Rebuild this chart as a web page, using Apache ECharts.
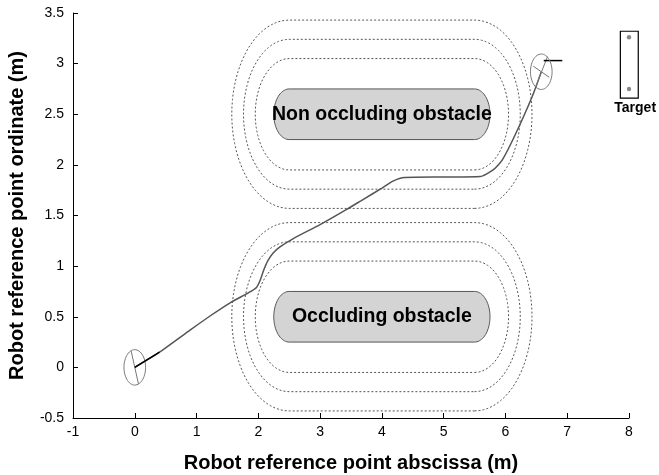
<!DOCTYPE html>
<html>
<head>
<meta charset="utf-8">
<script src="https://cdn.jsdelivr.net/npm/echarts@6/dist/echarts.min.js"></script>
<style>
  html, body { margin: 0; padding: 0; background: #fff; }
  #main { width: 659px; height: 475px; }
</style>
</head>
<body>
<div id="main"></div>
<script>
// trajectory of the robot reference point (m)
const pathX = [0, 0.4, 0.9, 1.2, 1.55, 1.85, 1.97, 2.03, 2.08, 2.15, 2.24, 2.35, 2.56, 3.0, 3.43, 3.7, 4.0, 4.18, 4.37, 5.0, 5.59, 5.8, 5.95, 6.16, 6.43, 6.58];
const pathY = [0, 0.15, 0.37, 0.5, 0.64, 0.74, 0.79, 0.86, 0.95, 1.05, 1.13, 1.19, 1.27, 1.41, 1.56, 1.66, 1.77, 1.84, 1.875, 1.88, 1.885, 1.95, 2.05, 2.3, 2.67, 2.92];

// obstacles: stadium shapes, ends centred at obstacleEndX, height 2*obstacleRadius
const obstacleNames = ["Non occluding obstacle", "Occluding obstacle"];
const obstacleCenterY = [2.5, 0.5];
const obstacleEndX = [2.5, 5.5];
const obstacleRadius = 0.25;
const marginRadii = [0.55, 0.74, 0.93];

// robot poses (circle centre) and the segments drawn inside them
const robotCenters = [[0, 0], [6.58, 2.92]];
const robotRadius = 0.175;
const robotGraySegs = [
  [[-0.06, 0.165], [0.06, -0.165]],
  [[6.49, 2.77], [6.68, 3.07]],
  [[6.45, 2.975], [6.71, 2.865]]
];
const robotBlackSegs = [
  [[0, 0], [0.4, 0.15]],
  [[6.62, 3.03], [6.92, 3.03]]
];

// target
const targetBox = [[7.86, 2.66], [8.15, 3.32]];
const targetDots = [[8.0, 3.26], [8.0, 2.75]];
const targetLabel = [8.1, 2.56];

const xTicks = { min: -1, max: 8, step: 1 };
const yTicks = { min: -0.5, max: 3.5, step: 0.5 };

function stadium(api, x0, x1, yc, r) {
  const pts = [];
  const n = 40;
  for (let i = 0; i <= n; i++) {
    const a = -Math.PI / 2 + Math.PI * i / n;
    pts.push(api.coord([x1 + r * Math.cos(a), yc + r * Math.sin(a)]));
  }
  for (let i = 0; i <= n; i++) {
    const a = Math.PI / 2 + Math.PI * i / n;
    pts.push(api.coord([x0 + r * Math.cos(a), yc + r * Math.sin(a)]));
  }
  return pts;
}

function seg(api, s, color, width) {
  const a = api.coord(s[0]), b = api.coord(s[1]);
  return {
    type: "line",
    shape: { x1: a[0], y1: a[1], x2: b[0], y2: b[1] },
    style: { stroke: color, lineWidth: width }
  };
}

const chart = echarts.init(document.getElementById("main"));

const option = {
  animation: false,
  grid: { left: 73, right: 30, top: 13, bottom: 57, containLabel: false, outerBoundsMode: "none" },
  xAxis: {
    type: "value",
    min: xTicks.min,
    max: xTicks.max,
    interval: xTicks.step,
    name: "Robot reference point abscissa (m)",
    nameLocation: "middle",
    nameGap: 35,
    nameTextStyle: { fontFamily: "Liberation Sans", fontWeight: "bold", fontSize: 20, color: "#000" },
    axisLine: { show: true, onZero: false, lineStyle: { color: "#000", width: 1 } },
    axisTick: { show: true, inside: true, length: 5, lineStyle: { color: "#000" } },
    axisLabel: { fontFamily: "Liberation Sans", fontSize: 14, color: "#000", margin: 7 },
    splitLine: { show: false }
  },
  yAxis: {
    type: "value",
    min: yTicks.min,
    max: yTicks.max,
    interval: yTicks.step,
    name: "Robot reference point ordinate (m)",
    nameLocation: "middle",
    nameGap: 46,
    nameTextStyle: { fontFamily: "Liberation Sans", fontWeight: "bold", fontSize: 20, color: "#000" },
    axisLine: { show: true, onZero: false, lineStyle: { color: "#000", width: 1 } },
    axisTick: { show: true, inside: true, length: 5, lineStyle: { color: "#000" } },
    axisLabel: { fontFamily: "Liberation Sans", fontSize: 14, color: "#000", margin: 9 },
    splitLine: { show: false }
  },
  series: [
    {
      // dotted safety margins around both obstacles
      type: "custom",
      silent: true,
      z: 1,
      data: obstacleCenterY.map((y, i) => [i, y]),
      renderItem: function (params, api) {
        const yc = obstacleCenterY[params.dataIndex];
        return {
          type: "group",
          children: marginRadii.map(r => ({
            type: "polygon",
            shape: { points: stadium(api, obstacleEndX[0], obstacleEndX[1], yc, r) },
            style: { fill: "none", stroke: "#555", lineWidth: 1, lineDash: [2, 2] }
          }))
        };
      }
    },
    {
      // obstacles with their names
      type: "custom",
      silent: true,
      z: 2,
      data: obstacleCenterY.map((y, i) => [i, y]),
      renderItem: function (params, api) {
        const i = params.dataIndex;
        const yc = obstacleCenterY[i];
        const c = api.coord([(obstacleEndX[0] + obstacleEndX[1]) / 2, yc]);
        return {
          type: "group",
          children: [
            {
              type: "polygon",
              shape: { points: stadium(api, obstacleEndX[0], obstacleEndX[1], yc, obstacleRadius) },
              style: { fill: "#d4d4d4", stroke: "#555", lineWidth: 1 }
            },
            {
              type: "text",
              style: {
                text: obstacleNames[i], x: c[0], y: c[1],
                align: "center", verticalAlign: "middle",
                textAlign: "center", textVerticalAlign: "middle",
                font: "bold 19.5px 'Liberation Sans'", fill: "#000"
              }
            }
          ]
        };
      }
    },
    {
      type: "line",
      name: "trajectory",
      z: 3,
      symbol: "none",
      smooth: 0.2,
      lineStyle: { color: "#555", width: 1.5 },
      data: pathX.map((x, i) => [x, pathY[i]])
    },
    {
      // robots at start and end
      type: "custom",
      silent: true,
      z: 4,
      data: robotCenters,
      renderItem: function (params, api) {
        const c = robotCenters[params.dataIndex];
        const pts = [];
        for (let k = 0; k < 60; k++) {
          const a = 2 * Math.PI * k / 60;
          pts.push(api.coord([c[0] + robotRadius * Math.cos(a), c[1] + robotRadius * Math.sin(a)]));
        }
        const children = [{
          type: "polygon",
          shape: { points: pts },
          style: { fill: "none", stroke: "#777", lineWidth: 1 }
        }];
        if (params.dataIndex === 0) {
          robotGraySegs.forEach(s => children.push(seg(api, s, "#777", 1)));
          robotBlackSegs.forEach(s => children.push(seg(api, s, "#000", 1.5)));
        }
        return { type: "group", children: children };
      }
    },
    {
      // target
      type: "custom",
      silent: true,
      z: 4,
      data: [targetLabel],
      renderItem: function (params, api) {
        const a = api.coord(targetBox[0]), b = api.coord(targetBox[1]);
        const t = api.coord(targetLabel);
        const children = [{
          type: "rect",
          shape: { x: a[0], y: b[1], width: b[0] - a[0], height: a[1] - b[1] },
          style: { fill: "none", stroke: "#000", lineWidth: 1.2 }
        }];
        targetDots.forEach(d => {
          const p = api.coord(d);
          children.push({ type: "circle", shape: { cx: p[0], cy: p[1], r: 2.2 }, style: { fill: "#888" } });
        });
        children.push({
          type: "text",
          style: {
            text: "Target", x: t[0], y: t[1],
            align: "center", verticalAlign: "middle",
            textAlign: "center", textVerticalAlign: "middle",
            font: "bold 14px 'Liberation Sans'", fill: "#000"
          }
        });
        return { type: "group", children: children };
      }
    }
  ]
};

chart.setOption(option);
</script>
</body>
</html>
